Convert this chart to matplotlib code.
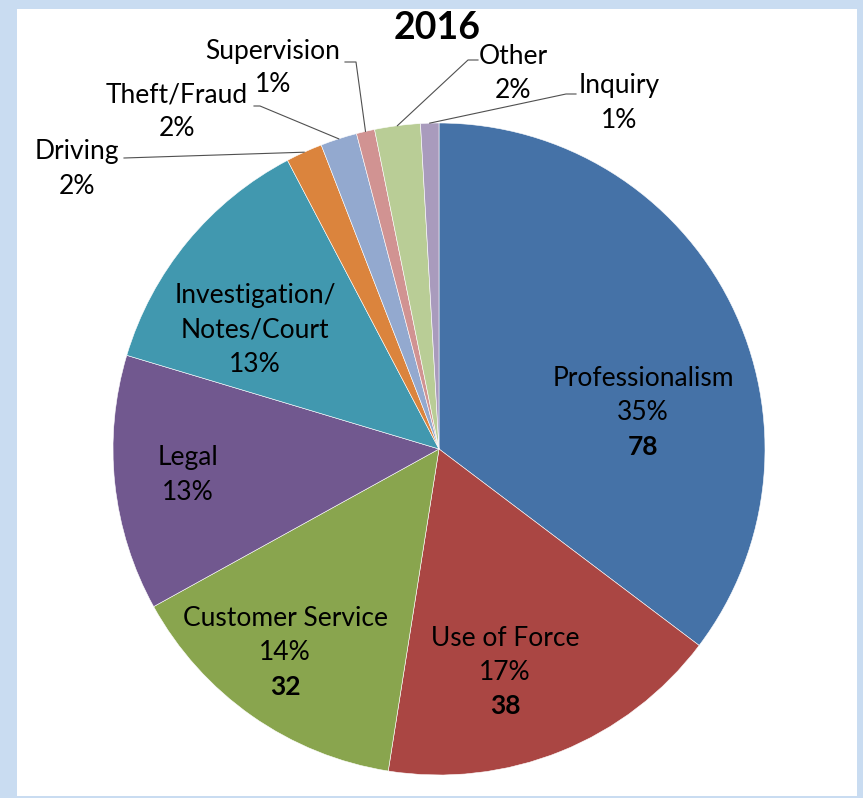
import numpy as np
import matplotlib
matplotlib.use("Agg")
import matplotlib.pyplot as plt
from matplotlib.patches import Rectangle

plt.rcParams["font.family"] = ["Lato", "DejaVu Sans"]

# data (counts, clockwise from 12 o'clock)
categories = ["Professionalism", "Use of Force", "Customer Service", "Legal",
              "Investigation/\nNotes/Court", "Driving", "Theft/Fraud",
              "Supervision", "Other", "Inquiry"]
counts = [78, 38, 32, 28, 28, 4, 4, 2, 5, 2]
show_count = [True, True, True, False, False, False, False, False, False, False]
colors = ["#4572A7", "#AA4643", "#89A54E", "#71588F", "#4198AF",
          "#DB843D", "#93A9CF", "#D19392", "#B9CD96", "#A99BBD"]

W, H = 863, 798
CX, CY, R = 439, 449, 326  # pie centre / radius in image pixels


def Y(y):
    return H - y


fig = plt.figure(figsize=(W / 100, H / 100), dpi=100)
fig.patch.set_facecolor("#c9dcf1")
ax = fig.add_axes([0, 0, 1, 1])
ax.set_xlim(0, W)
ax.set_ylim(0, H)
ax.set_aspect("equal")
ax.axis("off")

# white chart area
ax.add_patch(Rectangle((17, Y(796)), 840, 787, facecolor="white",
                       edgecolor="none", zorder=0))

wedges, _ = ax.pie(counts, colors=colors, startangle=90, counterclock=False,
                   center=(CX, Y(CY)), radius=R,
                   wedgeprops=dict(linewidth=0.4, edgecolor="white"))
ax.set_xlim(0, W)
ax.set_ylim(0, H)

total = sum(counts)
pcts = [f"{round(c / total * 100)}%" for c in counts]

ax.text(437, Y(28), "2016", ha="center", va="center", fontsize=27,
        fontweight="bold", zorder=5)

# label block centres (image px)
label_pos = [(643, 413), (505, 672), (285, 653), (188, 475), (255, 330),
             (77, 169), (177, 112), (273, 68), (513, 73), (619, 103)]
line_h = 34

for i, cat in enumerate(categories):
    lines = [(l, "normal") for l in cat.split("\n")]
    lines.append((pcts[i], "normal"))
    if show_count[i]:
        lines.append((str(counts[i]), "bold"))
    x, yc = label_pos[i]
    y0 = yc - (len(lines) - 1) * line_h / 2
    for k, (txt, wt) in enumerate(lines):
        ax.text(x, Y(y0 + k * line_h), txt, ha="center", va="center",
                fontsize=19, fontweight=wt, color="black", zorder=5)

# leader lines for the small slices: start points in image px, end on wedge
leaders = {
    5: [(124, 158)],
    6: [(254, 106), (260, 106)],
    7: [(345, 62), (356, 62)],
    8: [(478, 60), (468, 60)],
    9: [(576, 94), (566, 94)],
}
for i, pts in leaders.items():
    w = wedges[i]
    mid = np.deg2rad((w.theta1 + w.theta2) / 2)
    ex = CX + R * np.cos(mid)
    ey = CY - R * np.sin(mid)
    xs = [p[0] for p in pts] + [ex]
    ys = [Y(p[1]) for p in pts] + [Y(ey)]
    ax.plot(xs, ys, color="#505050", lw=0.8, zorder=4)

fig.savefig("out.png", dpi=100, facecolor=fig.get_facecolor())
